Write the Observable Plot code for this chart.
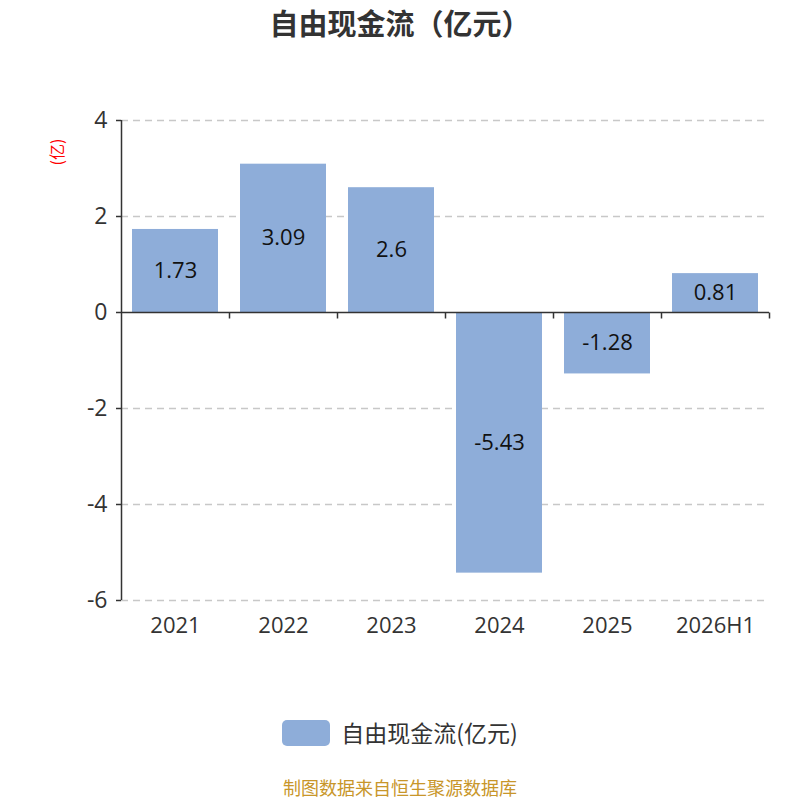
<!DOCTYPE html>
<html><head><meta charset="utf-8">
<script src="https://cdn.jsdelivr.net/npm/d3@7"></script>
<script src="https://cdn.jsdelivr.net/npm/@observablehq/plot@0.6"></script>
<style>
body{margin:0;background:#fff;font-family:"Open Sans","Noto Sans CJK SC",sans-serif;}
#wrap{position:relative;width:800px;height:800px;overflow:hidden;}
#title{position:absolute;top:2px;left:0;width:800px;text-align:center;font-size:29px;line-height:1.4;font-weight:bold;color:#333;font-family:"Noto Sans CJK SC",sans-serif;}
#chart{position:absolute;top:0;left:0;}
#legend{position:absolute;top:718px;left:0;width:800px;display:flex;justify-content:center;align-items:center;font-size:23px;line-height:1.3;color:#333;font-family:"Noto Sans CJK SC",sans-serif;}
#legend .sw{width:48px;height:26px;border-radius:5px;background:#8eadd9;margin-right:11px;}
#caption{position:absolute;top:777px;left:0;width:800px;text-align:center;font-size:18px;line-height:1.2;color:#c8962a;font-family:"Noto Sans CJK SC",sans-serif;}
</style></head>
<body><div id="wrap">
<div id="title">自由现金流（亿元）</div>
<div id="chart"></div>
<div id="legend"><div class="sw"></div><span>自由现金流(亿元)</span></div>
<div id="caption">制图数据来自恒生聚源数据库</div>
</div>
<script>
const categories = ["2021","2022","2023","2024","2025","2026H1"];
const values = [1.73, 3.09, 2.6, -5.43, -1.28, 0.81];
const yTicks = [-6, -4, -2, 0, 2, 4];
const gridTicks = [-6, -4, -2, 2, 4];
const yLabel = "(亿)";

const data = categories.map((c, i) => ({year: c, value: values[i]}));

function boundaryTicks(index, scales, values, dims) {
  const x = scales.x, y = scales.y;
  const step = x.step();
  const bw = x.bandwidth();
  const g = d3.create("svg:g");
  const y0 = Math.round(y(0)) + 0.5;
  categories.forEach(c => {
    const bx = Math.round(x(c) + bw / 2 + step / 2) + 0.5;
    g.append("line").attr("x1", bx).attr("x2", bx).attr("y1", y0).attr("y2", y0 + 6)
      .attr("stroke", "#333").attr("stroke-width", 1.5);
  });
  g.append("line").attr("x1", dims.marginLeft).attr("x2", dims.width - dims.marginRight)
    .attr("y1", y0).attr("y2", y0).attr("stroke", "#333").attr("stroke-width", 1.5);
  g.append("line").attr("x1", dims.marginLeft + 0.5).attr("x2", dims.marginLeft + 0.5)
    .attr("y1", dims.marginTop).attr("y2", dims.height - dims.marginBottom)
    .attr("stroke", "#333").attr("stroke-width", 1.5);
  return g.node();
}

const plot = Plot.plot({
  width: 800,
  height: 680,
  marginTop: 120,
  marginBottom: 80,
  marginLeft: 121,
  marginRight: 31,
  style: {fontFamily: '"Open Sans","Noto Sans CJK SC",sans-serif', background: "transparent"},
  x: {domain: categories, paddingInner: 0.2, paddingOuter: 0.1, label: null},
  y: {domain: [-6, 4], label: null},
  marks: [
    Plot.ruleY(gridTicks, {stroke: "#c8c8c8", strokeWidth: 1.3, strokeDasharray: "7,5"}),
    Plot.barY(data, {x: "year", y: "value", fill: "#8eadd9"}),
    Plot.text(data, {x: "year", y: d => d.value / 2, text: d => String(d.value), fill: "#111", fontSize: 22}),
    Plot.axisY(yTicks, {tickSize: 5, tickPadding: 9, fontSize: 23, color: "#333", stroke: "#333", strokeWidth: 1.5, label: null, tickFormat: d => String(d)}),
    Plot.axisX({tickSize: 0, tickPadding: 17, fontSize: 22, color: "#333", label: null}),
    boundaryTicks,
    Plot.text([yLabel], {frameAnchor: "top-left", dx: -70, dy: 45, rotate: -90, fill: "red", fontSize: 16, text: d => d, fontFamily: "Noto Sans CJK SC"})
  ]
});
document.getElementById("chart").appendChild(plot);
</script>
</body></html>
